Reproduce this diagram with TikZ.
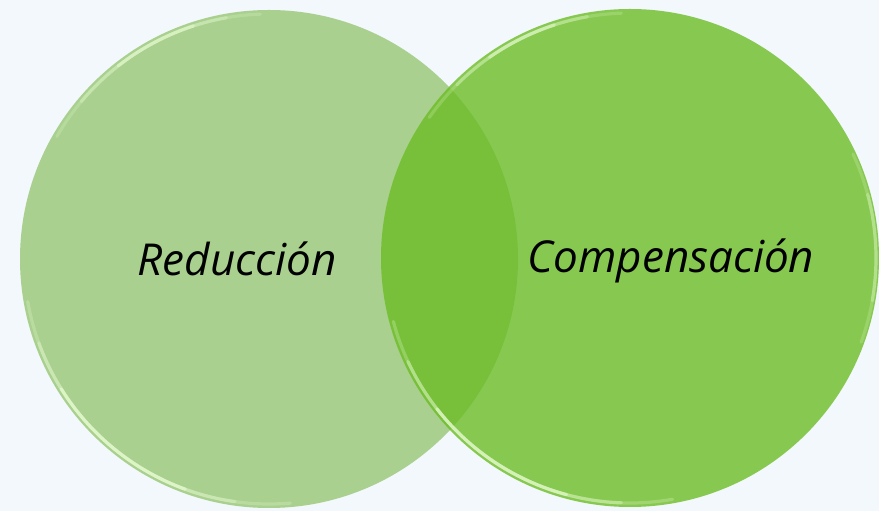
\documentclass[tikz,border=0pt]{standalone}
\usepackage{fontspec}
\setmainfont{Open Sans}
\definecolor{bg}{RGB}{243,248,252}
\definecolor{leftg}{RGB}{169,208,142}
\definecolor{rightg}{RGB}{108,189,38}
\definecolor{glow}{RGB}{235,255,215}
\tikzset{
  disc/.style={circle, inner sep=0pt, minimum size=498pt},
  label/.style={font=\fontsize{44}{46}\selectfont\itshape, text=black, inner sep=0pt},
  shine/.style={draw=glow, line width=3.2pt, line cap=round}
}
\begin{document}
\begin{tikzpicture}[x=1pt,y=1pt]
\useasboundingbox (0,0) rectangle (879,511);
\fill[bg] (0,0) rectangle (879,511);
\clip (0,0) rectangle (879,511);
\node[disc, fill=leftg] (red) at (269,252) {};
\node[disc, fill=rightg, fill opacity=0.8] (comp) at (630,253) {};
% glossy rims, left disc
\foreach \a/\b/\o in {92/150/0.2, 100/140/0.3, 108/128/0.45}{
  \draw[shine, opacity=\o] ([shift={(\a:245)}]red.center) arc[start angle=\a, end angle=\b, radius=245];
}
\foreach \a/\b/\o in {190/275/0.25, 200/262/0.35, 212/250/0.55}{
  \draw[shine, opacity=\o] ([shift={(\a:245)}]red.center) arc[start angle=\a, end angle=\b, radius=245];
}
% glossy rims, right disc
\foreach \a/\b/\o in {92/145/0.2, 100/135/0.3, 108/125/0.45}{
  \draw[shine, opacity=\o] ([shift={(\a:245)}]comp.center) arc[start angle=\a, end angle=\b, radius=245];
}
\foreach \a/\b/\o in {195/280/0.25, 205/268/0.35, 218/255/0.55}{
  \draw[shine, opacity=\o] ([shift={(\a:245)}]comp.center) arc[start angle=\a, end angle=\b, radius=245];
}
\foreach \a/\b/\o in {-20/25/0.2, -10/15/0.3}{
  \draw[shine, opacity=\o] ([shift={(\a:246)}]comp.center) arc[start angle=\a, end angle=\b, radius=246];
}
\node[label] (t1) at (237,252) {Reducción};
\node[label] (t2) at (671,250) {Compensación};
\end{tikzpicture}
\end{document}
